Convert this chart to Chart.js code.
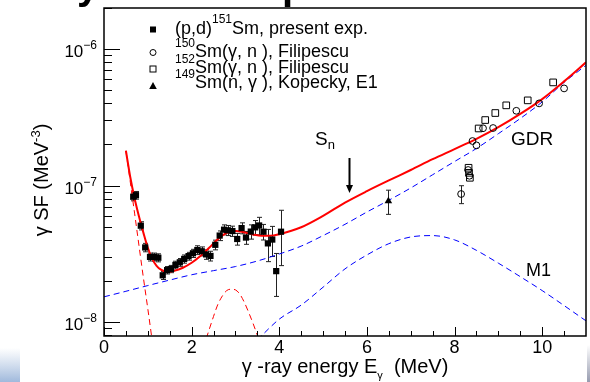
<!DOCTYPE html>
<html>
<head>
<meta charset="utf-8">
<script src="https://cdn.jsdelivr.net/npm/chart.js@4/dist/chart.umd.min.js"></script>
<style>
  html, body { margin: 0; padding: 0; background: #fff; }
  #c { display: block; }
</style>
</head>
<body>
<canvas id="c" width="590" height="382"></canvas>
<script>
// ---- data (E in MeV, SF in MeV^-3) ----
const PD_E = [0.667, 0.729, 0.84, 0.94, 1.05, 1.15, 1.24, 1.34, 1.44, 1.53, 1.63, 1.73, 1.83, 1.93,
  2.03, 2.13, 2.23, 2.33, 2.43, 2.54, 2.64, 2.74, 2.83, 2.93, 3.04, 3.14, 3.24, 3.35, 3.45, 3.54,
  3.64, 3.74, 3.84, 3.93, 4.04];
const PD_SF = [8.28e-8, 8.5e-8, 5.08e-8, 3.52e-8, 3.0e-8, 3.0e-8, 2.96e-8, 2.2e-8, 2.4e-8, 2.45e-8,
  2.62e-8, 2.74e-8, 2.9e-8, 3.04e-8, 3.19e-8, 3.37e-8, 3.3e-8, 3.13e-8, 3.05e-8, 3.68e-8, 4.3e-8,
  4.75e-8, 4.7e-8, 4.64e-8, 4.06e-8, 4.88e-8, 4.16e-8, 4.6e-8, 4.94e-8, 5.1e-8, 4.59e-8, 3.77e-8,
  4.02e-8, 2.36e-8, 4.59e-8];
const PD_ERR = [0.55e-8, 0.55e-8, 0.35e-8, 0.25e-8, 0.2e-8, 0.2e-8, 0.2e-8, 0.15e-8, 0.15e-8, 0.15e-8,
  0.17e-8, 0.18e-8, 0.2e-8, 0.2e-8, 0.22e-8, 0.25e-8, 0.25e-8, 0.25e-8, 0.25e-8, 0.3e-8, 0.35e-8,
  0.4e-8, 0.4e-8, 0.4e-8, 0.4e-8, 0.45e-8, 0.45e-8, 0.55e-8, 0.6e-8, 0.75e-8, 0.6e-8, 1.0e-8,
  1.0e-8, 0.82e-8, 2.0e-8];

const F150_E = [8.15, 8.31, 8.34, 8.41, 8.5, 8.65, 8.88, 9.41, 9.93, 10.5];
const F150_SF = [8.67e-8, 1.3e-7, 1.18e-7, 2.12e-7, 1.97e-7, 2.63e-7, 2.64e-7, 3.53e-7, 4.0e-7, 5.15e-7];
const F150_ERR = [1.3e-8, 0, 0, 0, 0, 0, 0, 0, 0, 0];

const F152_E = [8.32, 8.33, 8.35, 8.55, 8.70, 8.93, 9.18, 9.67, 10.25];
const F152_SF = [1.35e-7, 1.24e-7, 1.14e-7, 2.62e-7, 3.02e-7, 3.4e-7, 3.87e-7, 4.21e-7, 5.7e-7];

const KOP_E = [6.49];
const KOP_SF = [7.7e-8];
const KOP_ERR = [1.55e-8];

// model curves
const TOT_E = [0.5, 0.6, 0.7, 0.8, 0.9, 1.0, 1.1, 1.2, 1.3, 1.4, 1.5, 1.6, 1.8, 2.0, 2.2, 2.4, 2.6, 2.8,
  3.0, 3.2, 3.4, 3.6, 3.8, 4.0, 4.5, 5.0, 5.5, 6.0, 6.5, 7.0, 7.5, 8.0, 8.5, 9.0, 9.5, 10.0, 10.5, 11.0];
const TOT_SF = [1.8e-7, 1.15e-7, 8.0e-8, 5.9e-8, 4.5e-8, 3.5e-8, 2.9e-8, 2.58e-8, 2.42e-8, 2.35e-8,
  2.34e-8, 2.37e-8, 2.5e-8, 2.72e-8, 3.05e-8, 3.5e-8, 4.05e-8, 4.5e-8, 4.65e-8, 4.55e-8, 4.38e-8,
  4.28e-8, 4.28e-8, 4.4e-8, 4.95e-8, 6.0e-8, 7.5e-8, 9.1e-8, 1.09e-7, 1.3e-7, 1.56e-7, 1.85e-7,
  2.2e-7, 2.68e-7, 3.35e-7, 4.3e-7, 5.8e-7, 8.0e-7];

const E1_E = [0, 0.5, 1, 1.5, 2, 2.5, 3, 3.5, 4, 4.5, 5, 5.5, 6, 6.5, 7, 7.5, 8, 8.5, 9, 9.5, 10, 10.5, 11];
const E1_SF = [1.53e-8, 1.68e-8, 1.85e-8, 2.03e-8, 2.22e-8, 2.38e-8, 2.55e-8, 2.8e-8, 3.15e-8, 3.6e-8,
  4.3e-8, 5.2e-8, 6.4e-8, 7.8e-8, 9.6e-8, 1.2e-7, 1.5e-7, 1.87e-7, 2.4e-7, 3.1e-7, 4.1e-7, 5.7e-7, 7.6e-7];

const M1_E = [3.5, 4, 4.5, 5, 5.5, 6, 6.5, 7, 7.5, 8, 8.5, 9, 9.5, 10, 10.5, 11];
const M1_SF = [7.4e-9, 1.05e-8, 1.33e-8, 1.8e-8, 2.45e-8, 3.1e-8, 3.75e-8, 4.2e-8, 4.3e-8, 4.0e-8,
  3.35e-8, 2.7e-8, 2.15e-8, 1.7e-8, 1.32e-8, 1.02e-8];

const UB_E = [0.5, 0.6, 0.7, 0.8, 0.9, 1.0, 1.1, 1.2];
const UB_SF = [1.8e-7, 1.06e-7, 6.2e-8, 3.6e-8, 2.1e-8, 1.25e-8, 7.3e-9, 4.3e-9];

const SC_E = [2.2, 2.3, 2.4, 2.5, 2.6, 2.7, 2.8, 2.9, 3.0, 3.1, 3.2, 3.3, 3.4, 3.5, 3.6, 3.7];
const SC_SF = [5.5e-9, 7.0e-9, 8.8e-9, 1.1e-8, 1.35e-8, 1.55e-8, 1.7e-8, 1.74e-8, 1.72e-8, 1.6e-8,
  1.4e-8, 1.18e-8, 9.8e-9, 8.0e-9, 6.5e-9, 5.2e-9];

// axes
const X_MIN = 0, X_MAX = 11;
const Y_MIN = 7.9e-9, Y_MAX = 2.0e-6;
const X_MAJOR = [0, 2, 4, 6, 8, 10];
const X_MINOR = [0.5, 1, 1.5, 2.5, 3, 3.5, 4.5, 5, 5.5, 6.5, 7, 7.5, 8.5, 9, 9.5, 10.5];
const Y_MAJOR = [1e-8, 1e-7, 1e-6];
const Y_MAJOR_LBL = ["-8", "-7", "-6"];
const Y_MINOR = [8e-9, 9e-9, 2e-8, 3e-8, 4e-8, 5e-8, 6e-8, 7e-8, 8e-8, 9e-8,
  2e-7, 3e-7, 4e-7, 5e-7, 6e-7, 7e-7, 8e-7, 9e-7, 2e-6];

const FONT = "'Liberation Sans', Arial, Helvetica, sans-serif";

function pts(xs, ys) {
  return xs.map((x, i) => ({ x, y: ys[i] }));
}

// draw text pieces left to right: [text, size, dy]
function rich(ctx, parts, x, y, measureOnly) {
  let w = 0;
  for (const [t, size, dy] of parts) {
    ctx.font = `${size}px ${FONT}`;
    if (!measureOnly) ctx.fillText(t, x + w, y + (dy || 0));
    w += ctx.measureText(t).width;
  }
  return w;
}

const errorBars = {
  id: "errorBars",
  beforeDatasetsDraw(chart) {
    const { ctx, chartArea: a, scales: { x, y } } = chart;
    ctx.save();
    ctx.beginPath();
    ctx.rect(a.left, a.top, a.right - a.left, a.bottom - a.top);
    ctx.clip();
    ctx.strokeStyle = "#222";
    ctx.lineWidth = 1;
    chart.data.datasets.forEach((ds) => {
      if (!ds.yErr) return;
      ds.data.forEach((p, j) => {
        const e = ds.yErr[j];
        if (!e) return;
        const px = Math.round(x.getPixelForValue(p.x)) + 0.5;
        const t = y.getPixelForValue(p.y + e);
        const b = y.getPixelForValue(Math.max(p.y - e, 1e-12));
        ctx.beginPath();
        ctx.moveTo(px, t); ctx.lineTo(px, b);
        ctx.moveTo(px - 2.5, t); ctx.lineTo(px + 2.5, t);
        ctx.moveTo(px - 2.5, b); ctx.lineTo(px + 2.5, b);
        ctx.stroke();
      });
    });
    ctx.restore();
  },
};

const decor = {
  id: "decor",
  beforeDraw(chart) {
    const ctx = chart.ctx;
    ctx.save();
    ctx.fillStyle = "#fff";
    ctx.fillRect(0, 0, chart.width, chart.height);
    // slide leftovers
    let g = ctx.createLinearGradient(0, 348, 0, 382);
    g.addColorStop(0, "rgba(170,192,222,0)");
    g.addColorStop(1, "rgba(160,185,220,1)");
    ctx.fillStyle = g;
    ctx.fillRect(0, 348, 20, 34);
    g = ctx.createLinearGradient(0, 345, 0, 382);
    g.addColorStop(0, "rgba(150,155,175,0)");
    g.addColorStop(1, "rgba(150,155,175,1)");
    ctx.fillStyle = g;
    ctx.fillRect(587, 345, 3, 37);
    ctx.fillStyle = "#000";
    ctx.font = `bold 40px ${FONT}`;
    ctx.textBaseline = "alphabetic";
    ctx.fillText("y", 77, -1);
    ctx.fillText("p", 282, -1);
    ctx.restore();
  },
  afterDraw(chart) {
    const { ctx, chartArea: a, scales: { x, y } } = chart;
    ctx.save();
    ctx.strokeStyle = "#000";
    ctx.fillStyle = "#000";
    // frame
    ctx.lineWidth = 1.5;
    ctx.strokeRect(a.left, a.top, a.right - a.left, a.bottom - a.top);
    // ticks inside
    ctx.lineWidth = 1;
    ctx.beginPath();
    for (const v of X_MAJOR) {
      const px = Math.round(x.getPixelForValue(v)) + 0.5;
      ctx.moveTo(px, a.bottom); ctx.lineTo(px, a.bottom - 9);
    }
    for (const v of X_MINOR) {
      const px = Math.round(x.getPixelForValue(v)) + 0.5;
      ctx.moveTo(px, a.bottom); ctx.lineTo(px, a.bottom - 5);
    }
    for (const v of Y_MAJOR) {
      const py = Math.round(y.getPixelForValue(v)) + 0.5;
      ctx.moveTo(a.left, py); ctx.lineTo(a.left + 16, py);
    }
    for (const v of Y_MINOR) {
      const py = Math.round(y.getPixelForValue(v)) + 0.5;
      ctx.moveTo(a.left, py); ctx.lineTo(a.left + 8, py);
    }
    ctx.stroke();

    // y tick labels 10^n
    ctx.textBaseline = "alphabetic";
    Y_MAJOR.forEach((v, i) => {
      const py = y.getPixelForValue(v);
      const parts = [["10", 17, 0], ["\u2212" + Y_MAJOR_LBL[i].slice(1), 12, -8]];
      const w = rich(ctx, parts, 0, 0, true);
      rich(ctx, parts, 97 - w, py + 8);
    });

    // x title
    const xt = [["\u03b3 -ray energy E", 20, 0], ["\u03b3", 11, 6], ["  (MeV)", 20, 0]];
    const xw = rich(ctx, xt, 0, 0, true);
    rich(ctx, xt, (a.left + a.right) / 2 - xw / 2, 373);

    // y title (rotated)
    const yt = [["\u03b3 SF (MeV", 20, 0], ["-3", 13, -8], [")", 20, 0]];
    const yw = rich(ctx, yt, 0, 0, true);
    ctx.save();
    ctx.translate(48, 180);
    ctx.rotate(-Math.PI / 2);
    rich(ctx, yt, -yw / 2, 0);
    ctx.restore();

    // legend
    const lx = 153, tx = 175;
    ctx.fillRect(lx - 3, 29.5 - 3, 6, 6);
    rich(ctx, [["(p,d)", 18, 0], ["151", 12, -11], ["Sm, present exp.", 18, 0]], tx, 34);
    ctx.beginPath(); ctx.arc(lx, 52.5, 3, 0, Math.PI * 2); ctx.stroke();
    rich(ctx, [["150", 12, -10], ["Sm(\u03b3, n ), Filipescu", 18, 0]], tx, 57);
    ctx.strokeRect(lx - 3, 66, 6, 6);
    rich(ctx, [["152", 12, -10], ["Sm(\u03b3, n ), Filipescu", 18, 0]], tx, 72.5);
    ctx.beginPath();
    ctx.moveTo(lx, 82); ctx.lineTo(lx + 3.8, 89); ctx.lineTo(lx - 3.8, 89); ctx.closePath(); ctx.fill();
    rich(ctx, [["149", 12, -10], ["Sm(n, \u03b3 ), Kopecky, E1", 18, 0]], tx, 88);

    // annotations
    rich(ctx, [["S", 19, 0], ["n", 13, 4]], 315, 145);
    rich(ctx, [["GDR", 19, 0]], 511, 145);
    rich(ctx, [["M1", 18, 0]], 526, 276);

    // S_n arrow
    const ax = Math.round(x.getPixelForValue(5.6)) + 0.5;
    ctx.lineWidth = 2;
    ctx.beginPath(); ctx.moveTo(ax, 158); ctx.lineTo(ax, 186); ctx.stroke();
    ctx.beginPath(); ctx.moveTo(ax - 3.5, 185); ctx.lineTo(ax + 3.5, 185); ctx.lineTo(ax, 193); ctx.closePath(); ctx.fill();
    ctx.restore();
  },
};

const lineDs = (label, xs, ys, color, width, dash) => ({
  label, data: pts(xs, ys), showLine: true, pointRadius: 0, borderColor: color,
  borderWidth: width, borderDash: dash, cubicInterpolationMode: "monotone", fill: false,
});

new Chart(document.getElementById("c"), {
  type: "scatter",
  data: {
    datasets: [
      { label: "(p,d)", data: pts(PD_E, PD_SF), yErr: PD_ERR, pointStyle: "rect", pointRadius: 4.4,
        backgroundColor: "#000", borderColor: "#000", borderWidth: 0 },
      { label: "150Sm", data: pts(F150_E, F150_SF), yErr: F150_ERR, pointStyle: "circle", pointRadius: 3.4,
        backgroundColor: "rgba(255,255,255,0)", borderColor: "#000", borderWidth: 1 },
      { label: "152Sm", data: pts(F152_E, F152_SF), pointStyle: "rect", pointRadius: 4.7,
        backgroundColor: "rgba(255,255,255,0)", borderColor: "#000", borderWidth: 1 },
      { label: "149Sm", data: pts(KOP_E, KOP_SF), yErr: KOP_ERR, pointStyle: "triangle", pointRadius: 4.4,
        backgroundColor: "#000", borderColor: "#000", borderWidth: 0 },
      lineDs("total", TOT_E, TOT_SF, "#ff0000", 2, []),
      lineDs("upbend", UB_E, UB_SF, "#ff0000", 1, [6, 4]),
      lineDs("scissors", SC_E, SC_SF, "#ff0000", 1, [6, 4]),
      lineDs("E1", E1_E, E1_SF, "#0000ff", 1, [6, 4]),
      lineDs("M1", M1_E, M1_SF, "#0000ff", 1, [6, 4]),
    ],
  },
  options: {
    responsive: false,
    animation: false,
    devicePixelRatio: 1,
    layout: { padding: { left: 0, right: 4, top: 8, bottom: 0 }, autoPadding: false },
    plugins: { legend: { display: false }, tooltip: { enabled: false } },
    scales: {
      x: {
        type: "linear", min: X_MIN, max: X_MAX,
        grid: { display: false, drawTicks: false },
        border: { display: false },
        afterBuildTicks: (s) => { s.ticks = X_MAJOR.map((v) => ({ value: v })); },
        afterFit: (s) => { s.height = 46; },
        ticks: { color: "#000", padding: 1, font: { family: FONT, size: 18 }, maxRotation: 0 },
      },
      y: {
        type: "logarithmic", min: Y_MIN, max: Y_MAX,
        grid: { display: false, drawTicks: false },
        border: { display: false },
        ticks: { display: false },
        afterFit: (s) => { s.width = 104; },
      },
    },
  },
  plugins: [decor, errorBars],
});
</script>
</body>
</html>
